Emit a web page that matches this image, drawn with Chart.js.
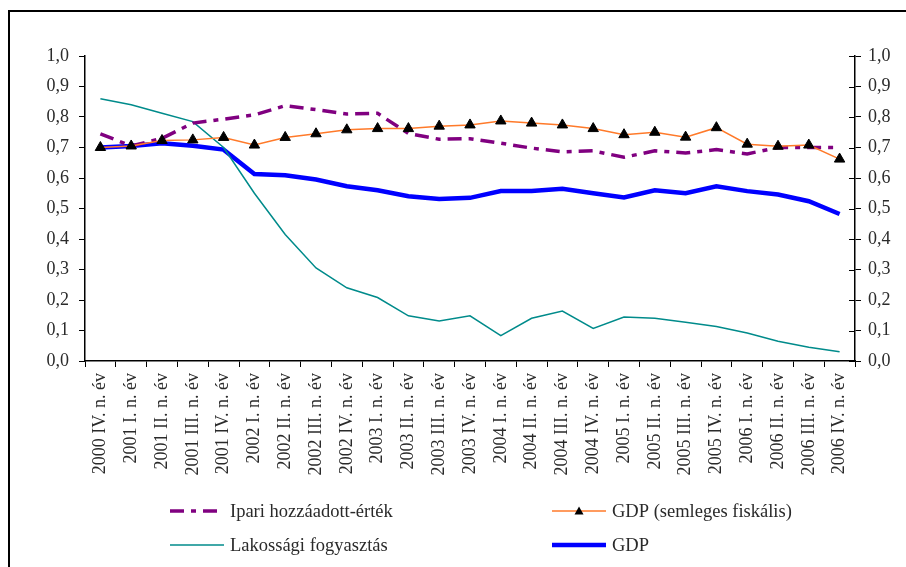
<!DOCTYPE html>
<html>
<head>
<meta charset="utf-8">
<script src="https://cdn.jsdelivr.net/npm/chart.js@4"></script>
<style>
  body { margin: 0; background: #fff; }
  #wrap { position: relative; width: 906px; height: 567px; overflow: hidden; }
  #frame { position: absolute; left: 8px; top: 10px; width: 1000px; height: 1000px;
           border-left: 2px solid #000; border-top: 2px solid #000; pointer-events: none; }
  canvas { position: absolute; left: 0; top: 0; }
</style>
</head>
<body>
<div id="wrap">
  <canvas id="chart" width="906" height="567"></canvas>
  <div id="frame"></div>
</div>
<script>
const labels = [
  '2000 IV. n. év', '2001 I. n. év', '2001 II. n. év', '2001 III. n. év', '2001 IV. n. év',
  '2002 I. n. év', '2002 II. n. év', '2002 III. n. év', '2002 IV. n. év',
  '2003 I. n. év', '2003 II. n. év', '2003 III. n. év', '2003 IV. n. év',
  '2004 I. n. év', '2004 II. n. év', '2004 III. n. év', '2004 IV. n. év',
  '2005 I. n. év', '2005 II. n. év', '2005 III. n. év', '2005 IV. n. év',
  '2006 I. n. év', '2006 II. n. év', '2006 III. n. év', '2006 IV. n. év'
];

const ipari = [0.745, 0.705, 0.73, 0.78, 0.793, 0.807, 0.837, 0.824, 0.81,
  0.812, 0.746, 0.727, 0.729, 0.714, 0.698, 0.686, 0.689, 0.668,
  0.689, 0.682, 0.693, 0.679, 0.70, 0.70, 0.70];
const gdpSemleges = [0.70, 0.705, 0.723, 0.725, 0.733, 0.708, 0.733, 0.745, 0.758,
  0.762, 0.762, 0.77, 0.774, 0.787, 0.78, 0.774, 0.762, 0.742,
  0.75, 0.734, 0.765, 0.711, 0.704, 0.708, 0.662];
const lakossagi = [0.86, 0.84, 0.812, 0.785, 0.70, 0.55, 0.415, 0.305, 0.24,
  0.208, 0.148, 0.131, 0.148, 0.083, 0.14, 0.164, 0.107, 0.144,
  0.14, 0.127, 0.113, 0.092, 0.065, 0.045, 0.03];
const gdp = [0.70, 0.705, 0.714, 0.706, 0.693, 0.613, 0.609, 0.595, 0.573,
  0.56, 0.54, 0.531, 0.535, 0.557, 0.557, 0.565, 0.55, 0.536,
  0.56, 0.55, 0.573, 0.557, 0.546, 0.524, 0.482];

const yTickLabels = ['0,0', '0,1', '0,2', '0,3', '0,4', '0,5', '0,6', '0,7', '0,8', '0,9', '1,0'];

const fontFamily = '"Liberation Serif", "DejaVu Serif", serif';
const font = { family: fontFamily, size: 18 };
const legendFontSize = 18.5;
const textColor = '#2a2a2a';

// legend drawn in two columns like the original
const legendItems = [
  { ds: 1, x: 170, y: 511 },
  { ds: 0, x: 552, y: 511 },
  { ds: 2, x: 170, y: 545 },
  { ds: 3, x: 552, y: 545 }
];

const legendPlugin = {
  id: 'twoColLegend',
  afterDraw(chart) {
    const c = chart.ctx;
    c.save();
    legendItems.forEach(item => {
      const ds = chart.data.datasets[item.ds];
      c.strokeStyle = ds.borderColor;
      c.lineWidth = ds.borderWidth;
      c.setLineDash(ds.borderDash || []);
      c.beginPath();
      c.moveTo(item.x, item.y);
      c.lineTo(item.x + 54, item.y);
      c.stroke();
      c.setLineDash([]);
      if (ds.pointStyle === 'triangle') {
        const cx = item.x + 27, r = 4.5;
        c.fillStyle = '#000';
        c.beginPath();
        c.moveTo(cx, item.y - r);
        c.lineTo(cx + r, item.y + r * 0.8);
        c.lineTo(cx - r, item.y + r * 0.8);
        c.closePath();
        c.fill();
      }
      c.fillStyle = textColor;
      c.font = legendFontSize + 'px ' + fontFamily;
      c.textBaseline = 'middle';
      c.fillText(ds.label, item.x + 60, item.y + 1);
    });
    c.restore();
  }
};

// right axis ticks cross the axis line
const innerTicks = {
  id: 'innerTicks',
  afterDraw(chart) {
    const s = chart.scales.y2;
    const c = chart.ctx;
    c.save();
    c.strokeStyle = '#000';
    c.lineWidth = 1;
    s.ticks.forEach(t => {
      const py = Math.round(s.getPixelForValue(t.value)) + 0.5;
      c.beginPath();
      c.moveTo(s.left - 6, py);
      c.lineTo(s.left, py);
      c.stroke();
    });
    c.restore();
  }
};

const yTickCallback = (v) => yTickLabels[Math.round(v * 10)];

new Chart(document.getElementById('chart'), {
  type: 'line',
  data: {
    labels: labels,
    datasets: [
      {
        label: 'GDP (semleges fiskális)',
        data: gdpSemleges,
        borderColor: '#ff7a2a',
        borderWidth: 1.5,
        pointStyle: 'triangle',
        pointRadius: 6,
        pointBackgroundColor: '#000',
        pointBorderColor: '#000',
        pointBorderWidth: 1
      },
      {
        label: 'Ipari hozzáadott-érték',
        data: ipari,
        borderColor: '#800080',
        borderWidth: 3.5,
        borderDash: [14, 7, 5, 7],
        pointRadius: 0
      },
      {
        label: 'Lakossági fogyasztás',
        data: lakossagi,
        borderColor: '#008b8b',
        borderWidth: 1.5,
        pointRadius: 0
      },
      {
        label: 'GDP',
        data: gdp,
        borderColor: '#0000ff',
        borderWidth: 4.5,
        pointRadius: 0
      }
    ]
  },
  options: {
    responsive: false,
    animation: false,
    tension: 0,
    layout: { padding: { top: 56, left: 0, right: 0, bottom: 0 } },
    plugins: {
      legend: { display: false },
      tooltip: { enabled: false }
    },
    scales: {
      x: {
        offset: true,
        afterFit(scale) { scale.height = 206; },
        grid: { offset: true, drawOnChartArea: false, tickLength: 6, color: '#000' },
        border: { color: '#000', width: 1.5 },
        ticks: {
          color: textColor, font: font, autoSkip: false,
          minRotation: 90, maxRotation: 90, padding: 6
        }
      },
      y: {
        position: 'left',
        min: 0, max: 1,
        afterFit(scale) { scale.width = 85; },
        grid: { drawOnChartArea: false, tickLength: 6, color: '#000' },
        border: { color: '#000', width: 1.5 },
        ticks: { stepSize: 0.1, color: textColor, font: font, padding: 10, callback: yTickCallback }
      },
      y2: {
        position: 'right',
        display: true,
        min: 0, max: 1,
        afterFit(scale) { scale.width = 51; },
        grid: { drawOnChartArea: false, tickLength: 6, color: '#000' },
        border: { color: '#000', width: 1.5 },
        ticks: { stepSize: 0.1, color: textColor, font: font, padding: 7, callback: yTickCallback }
      }
    }
  },
  plugins: [legendPlugin, innerTicks]
});
</script>
</body>
</html>
